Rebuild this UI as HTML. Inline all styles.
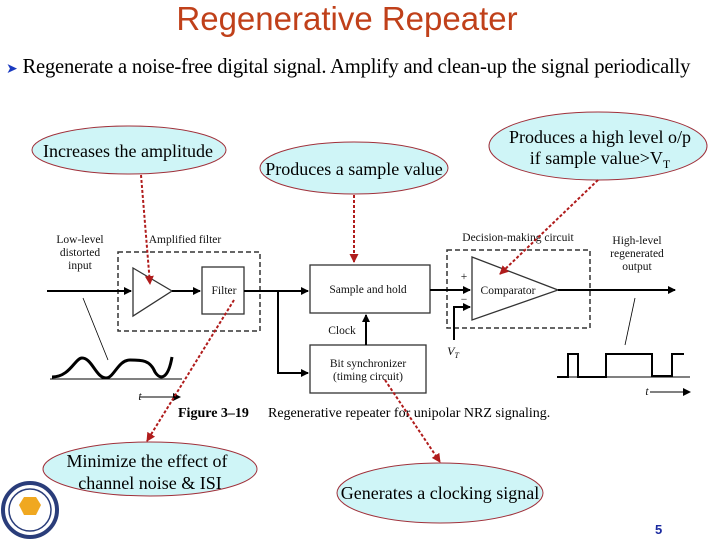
<!DOCTYPE html>
<html><head><style>
body{margin:0;width:720px;height:540px;background:#fff;overflow:hidden;position:relative;font-family:"Liberation Serif",serif}
.t{position:absolute;white-space:nowrap}
</style></head><body>
<div class="t" style="left:0;width:694px;top:0px;text-align:center;font-family:'Liberation Sans',sans-serif;font-size:33px;color:#c0401a">Regenerative Repeater</div>
<div class="t" style="left:6px;top:56px;font-size:20.6px;color:#000;letter-spacing:-0.2px"><span style="color:#1a3ac0;font-size:14px">➤</span> Regenerate a noise-free digital signal. Amplify and clean-up the signal periodically</div>
<svg width="720" height="540" style="position:absolute;left:0;top:0" font-family="Liberation Serif,serif">
<defs>
<marker id="a" markerWidth="8" markerHeight="8" refX="7" refY="4" orient="auto" markerUnits="userSpaceOnUse"><path d="M0,0L8,4L0,8z" fill="#000"/></marker>
<marker id="r" markerWidth="9" markerHeight="9" refX="8" refY="4.5" orient="auto" markerUnits="userSpaceOnUse"><path d="M0,0L9,4.5L0,9z" fill="#b01c1c"/></marker>
</defs>
<g stroke="#333" fill="none">
<rect x="118" y="252" width="142" height="79" stroke-dasharray="5,3" stroke-width="1.5"/>
<rect x="447" y="250" width="143" height="78" stroke-dasharray="5,3" stroke-width="1.5"/>
<path d="M133,268L172,291L133,316z" stroke-width="1.3"/>
<rect x="202" y="267" width="42" height="47" stroke-width="1.3"/>
<rect x="310" y="265" width="120" height="48" stroke-width="1.3"/>
<rect x="310" y="345" width="116" height="48" stroke-width="1.3"/>
<path d="M472,257L558,290L472,320z" stroke-width="1.3"/>
</g>
<g stroke="#000" stroke-width="2" fill="none">
<line x1="47" y1="291" x2="131" y2="291" marker-end="url(#a)"/>
<line x1="172" y1="291" x2="200" y2="291" marker-end="url(#a)"/>
<line x1="244" y1="291" x2="308" y2="291" marker-end="url(#a)"/>
<polyline points="278,291 278,373 308,373" marker-end="url(#a)"/>
<line x1="366" y1="345" x2="366" y2="315" marker-end="url(#a)"/>
<line x1="430" y1="290" x2="470" y2="290" marker-end="url(#a)"/>
<polyline points="454,340 454,307 470,307" marker-end="url(#a)"/>
<line x1="558" y1="290" x2="675" y2="290" marker-end="url(#a)"/>
<path d="M52,377C70,377 75,358 82,358C92,358 96,378 106,378C114,378 118,360 130,360C142,360 150,360 155,372C160,380 168,380 172,357" stroke-width="3"/>
<line x1="50" y1="379" x2="182" y2="379" stroke-width="1"/>
<polyline points="557,377 568,377 568,354 578,354 578,377 606,377 606,354 652,354 652,376 672,376 672,354 684,354" stroke-width="2"/>
<line x1="557" y1="377" x2="690" y2="377" stroke-width="1"/>
<line x1="140" y1="397" x2="180" y2="397" stroke-width="1" marker-end="url(#a)"/>
<line x1="650" y1="392" x2="690" y2="392" stroke-width="1" marker-end="url(#a)"/>
<line x1="83" y1="298" x2="108" y2="360" stroke-width="0.8"/>
<line x1="635" y1="298" x2="625" y2="345" stroke-width="0.8"/>
</g>
<g font-size="11.5" fill="#111" text-anchor="middle">
<text x="80" y="243">Low-level</text><text x="80" y="256">distorted</text><text x="80" y="269">input</text>
<text x="185" y="243">Amplified filter</text>
<text x="224" y="294">Filter</text>
<text x="368" y="293">Sample and hold</text>
<text x="342" y="334">Clock</text>
<text x="368" y="367">Bit synchronizer</text><text x="368" y="380">(timing circuit)</text>
<text x="518" y="241">Decision-making circuit</text>
<text x="508" y="294">Comparator</text>
<text x="464" y="280">+</text><text x="464" y="303">−</text>
<text x="453" y="355" font-style="italic" font-size="12">V<tspan font-size="8" dy="3">T</tspan></text>
<text x="637" y="244">High-level</text><text x="637" y="257">regenerated</text><text x="637" y="270">output</text>
<text x="140" y="400" font-style="italic">t</text><text x="647" y="395" font-style="italic">t</text>
</g>
<text x="178" y="417" font-size="14" font-weight="bold">Figure 3–19</text>
<text x="268" y="417" font-size="14">Regenerative repeater for unipolar NRZ signaling.</text>
<g fill="#cff5f7" stroke="#a0303a" stroke-width="1">
<ellipse cx="129" cy="150" rx="97" ry="24"/>
<ellipse cx="354" cy="168" rx="94" ry="26"/>
<ellipse cx="598" cy="146" rx="109" ry="34"/>
<ellipse cx="150" cy="469" rx="107" ry="27"/>
<ellipse cx="440" cy="493" rx="103" ry="30"/>
</g>
<g stroke="#b01c1c" stroke-width="2" stroke-dasharray="3,2" fill="none">
<line x1="141" y1="175" x2="150" y2="284" marker-end="url(#r)"/>
<line x1="354" y1="195" x2="354" y2="262" marker-end="url(#r)"/>
<line x1="598" y1="180" x2="500" y2="274" marker-end="url(#r)"/>
<line x1="234" y1="300" x2="147" y2="441" marker-end="url(#r)"/>
<line x1="385" y1="380" x2="440" y2="462" marker-end="url(#r)"/>
</g>
<g font-size="18" fill="#000" text-anchor="middle">
<text x="128" y="157">Increases the amplitude</text>
<text x="354" y="175">Produces a sample value</text>
<text x="600" y="143">Produces a high level o/p</text>
<text x="600" y="164">if sample value&gt;V<tspan font-size="12" dy="4">T</tspan></text>
<text x="147" y="467">Minimize the effect of</text>
<text x="150" y="489">channel noise &amp; ISI</text>
<text x="440" y="499">Generates a clocking signal</text>
</g>
<circle cx="30" cy="510" r="27" fill="#fff" stroke="#2a3d7a" stroke-width="4"/>
<circle cx="30" cy="510" r="21" fill="none" stroke="#2a3d7a" stroke-width="1.5"/>
<path d="M19,505L24,497L36,497L41,505L36,515L24,515z" fill="#f0a820"/>
<text x="655" y="534" font-family="Liberation Sans,sans-serif" font-size="13" font-weight="bold" fill="#1a2aa0">5</text>
</svg>
</body></html>
